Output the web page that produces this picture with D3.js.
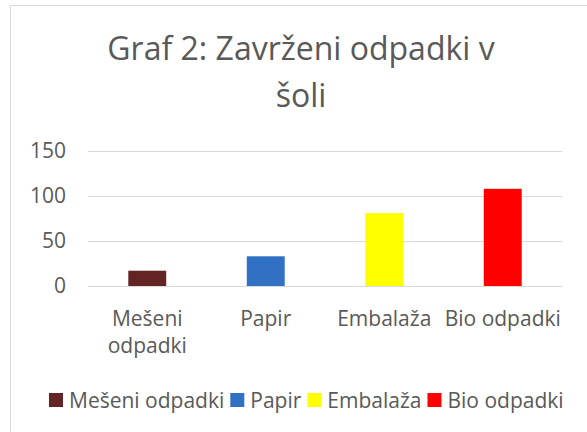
<!DOCTYPE html>
<html>
<head>
<meta charset="utf-8">
<script src="https://cdn.jsdelivr.net/npm/d3@7"></script>
<style>
  html, body { margin: 0; padding: 0; background: #fff; }
  svg { display: block; }
  text { font-family: "Open Sans", Lato, sans-serif; fill: #595959; }
</style>
</head>
<body>
<svg id="chart" width="587" height="432"></svg>
<script>
// Waste categories and counts
const categories = ["Mešeni odpadki", "Papir", "Embalaža", "Bio odpadki"];
const values = [17, 33, 81, 108];
const colors = ["#632523", "#3071c4", "#ffff00", "#ff0000"];
const yTicks = [0, 50, 100, 150];
const titleLines = ["Graf 2: Zavrženi odpadki v", "šoli"];
const xLabelLines = [["Mešeni", "odpadki"], ["Papir"], ["Embalaža"], ["Bio odpadki"]];

const svg = d3.select("#chart");
const W = 587, H = 432;
const margin = { left: 88, right: 25, top: 151, bottom: 146 };
const fontFamily = "'Open Sans', Lato, sans-serif";
const labelSize = "21px";

// chart frame
svg.append("rect")
  .attr("x", 10.5).attr("y", 5.5)
  .attr("width", W + 10).attr("height", H + 10)
  .attr("fill", "#fff").attr("stroke", "#d9d9d9").attr("stroke-width", 1);

// title
svg.append("text")
  .attr("text-anchor", "middle")
  .style("font-size", "32px").style("font-weight", 400)
  .selectAll("tspan").data(titleLines).join("tspan")
  .attr("x", 301).attr("y", (d, i) => 60 + i * 47)
  .text(d => d);

const x = d3.scaleBand()
  .domain(categories)
  .range([margin.left, W - margin.right])
  .paddingInner(0.68).paddingOuter(0.34);

const y = d3.scaleLinear()
  .domain([0, 150])
  .range([H - margin.bottom, margin.top]);

// gridlines
svg.append("g")
  .selectAll("line").data(yTicks).join("line")
  .attr("x1", margin.left).attr("x2", W - margin.right)
  .attr("y1", d => Math.round(y(d)) + 0.5).attr("y2", d => Math.round(y(d)) + 0.5)
  .attr("stroke", "#d9d9d9").attr("stroke-width", 1);

// y axis labels
const yAxis = d3.axisLeft(y).tickValues(yTicks).tickSize(0).tickPadding(0);
const gy = svg.append("g").attr("transform", `translate(${margin.left - 22},0)`).call(yAxis);
gy.select(".domain").remove();
gy.selectAll("text").style("font-size", labelSize).style("fill", "#595959")
  .style("font-family", fontFamily);

// bars
svg.append("g")
  .selectAll("rect").data(values).join("rect")
  .attr("x", (d, i) => x(categories[i]))
  .attr("width", x.bandwidth())
  .attr("y", d => y(d))
  .attr("height", d => y(0) - y(d))
  .attr("fill", (d, i) => colors[i]);

// category labels
svg.append("g")
  .selectAll("text").data(categories).join("text")
  .attr("text-anchor", "middle")
  .style("font-size", labelSize)
  .each(function (d, i) {
    d3.select(this).selectAll("tspan").data(xLabelLines[i]).join("tspan")
      .attr("x", x(d) + x.bandwidth() / 2)
      .attr("y", (t, j) => 326 + j * 27)
      .text(t => t);
  });

// legend
const legend = svg.append("g").attr("transform", "translate(0,400)");
let lx = 49;
categories.forEach((c, i) => {
  const g = legend.append("g").attr("transform", `translate(${lx},0)`);
  g.append("rect").attr("x", 0).attr("y", -7).attr("width", 14).attr("height", 14).attr("fill", colors[i]);
  const t = g.append("text").attr("x", 20).attr("y", 7.5).style("font-size", labelSize).text(c);
  lx += 20 + t.node().getComputedTextLength() + 6;
});
</script>
</body>
</html>
